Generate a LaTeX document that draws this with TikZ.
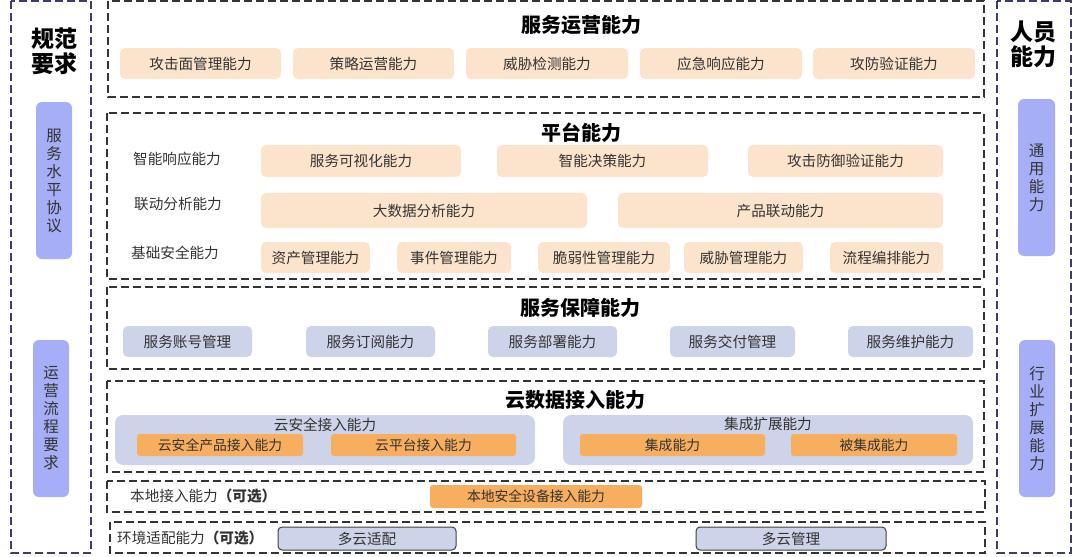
\documentclass[tikz,border=0pt]{standalone}
\usepackage{fontspec}
\setmainfont{Noto Sans CJK SC}
\usepackage{tikz}
\definecolor{peachfill}{HTML}{FCE4CC}
\definecolor{lavfill}{HTML}{CDD3E8}
\definecolor{orangefill}{HTML}{F7AE5E}
\definecolor{purplefill}{HTML}{A5AEF6}
\definecolor{navyline}{HTML}{3B3F66}
\definecolor{txtgray}{HTML}{333333}
\tikzset{
  frame/.style={draw=black!80, line width=1.1pt, dash pattern=on 8pt off 4pt},
  sideframe/.style={draw=navyline, line width=1.1pt, dash pattern=on 8pt off 4pt},
  itembox/.style={rounded corners=5pt, inner sep=0pt, text=txtgray, font=\fontsize{14.6}{16}\selectfont},
  peach/.style={itembox, fill=peachfill},
  lavender/.style={itembox, fill=lavfill},
  orangebox/.style={itembox, fill=orangefill, rounded corners=3pt, font=\fontsize{13.8}{15}\selectfont},
  groupbox/.style={fill=lavfill, rounded corners=8pt, inner sep=0pt},
  cloudbox/.style={itembox, fill=lavfill, draw=black!75, line width=1pt, rounded corners=4pt},
  purplebar/.style={fill=purplefill, rounded corners=6pt, inner sep=0pt, text=txtgray, align=center, font=\fontsize{15.5}{18}\selectfont},
  title/.style={font=\fontsize{20}{23}\selectfont\bfseries},
  sidetitle/.style={font=\fontsize{23}{25}\selectfont\bfseries, align=center},
  rowlabel/.style={text=txtgray, font=\fontsize{14.6}{16}\selectfont, inner sep=0pt}
}
\begin{document}
\begin{tikzpicture}[x=1pt,y=-1pt]
\useasboundingbox (0,0) rectangle (1080,557);
\draw[sideframe] (11,1) rectangle (91,553);
\draw[sideframe] (997,1) rectangle (1071,553);
\draw[frame] (108,1) rectangle (984,97);
\draw[frame] (107,113) rectangle (984,279);
\draw[frame] (107,287) rectangle (984,369);
\draw[frame] (107,381) rectangle (984,472);
\draw[frame] (107,481) rectangle (985,512);
\draw[frame] (110,522) rectangle (985,553);

\node[sidetitle] (norms) at (54,51) {规范\\要求};
\node[sidetitle] (staff) at (1033,44) {人员\\能力};
\node[purplebar, minimum width=36pt, minimum height=157pt] (sla) at (54,180.5) {服\\务\\水\\平\\协\\议};
\node[purplebar, minimum width=36pt, minimum height=157pt] (opsreq) at (51,418.5) {运\\营\\流\\程\\要\\求};
\node[purplebar, minimum width=37pt, minimum height=157pt] (general) at (1036.5,177.5) {通\\用\\能\\力};
\node[purplebar, minimum width=36pt, minimum height=157pt] (industry) at (1037,418.5) {行\\业\\扩\\展\\能\\力};

\node[title] (svcops) at (581,25) {服务运营能力};
\node[peach, minimum width=161pt, minimum height=31pt] (attack) at (200.5,63.5) {攻击面管理能力};
\node[peach, minimum width=161pt, minimum height=31pt] (policy) at (373.5,63.5) {策略运营能力};
\node[peach, minimum width=162pt, minimum height=31pt] (detect) at (547,63.5) {威胁检测能力};
\node[peach, minimum width=162pt, minimum height=31pt] (respond) at (721,63.5) {应急响应能力};
\node[peach, minimum width=162pt, minimum height=31pt] (verify) at (894,63.5) {攻防验证能力};

\node[title] (platform) at (581,133) {平台能力};
\node[rowlabel] (smartresp) at (177,159) {智能响应能力};
\node[rowlabel] (linkana) at (178,204) {联动分析能力};
\node[rowlabel] (basesec) at (175,253) {基础安全能力};
\node[peach, minimum width=200pt, minimum height=32pt] (visual) at (361,161) {服务可视化能力};
\node[peach, minimum width=211pt, minimum height=32pt] (decide) at (602.5,161) {智能决策能力};
\node[peach, minimum width=195pt, minimum height=32pt] (defverify) at (845.5,161) {攻击防御验证能力};
\node[peach, minimum width=326pt, minimum height=35pt] (bigdata) at (424,210.5) {大数据分析能力};
\node[peach, minimum width=325pt, minimum height=35pt] (prodlink) at (780.5,210.5) {产品联动能力};
\node[peach, minimum width=109pt, minimum height=31pt] (asset) at (315.5,257.5) {资产管理能力};
\node[peach, minimum width=114pt, minimum height=31pt] (event) at (454,257.5) {事件管理能力};
\node[peach, minimum width=132pt, minimum height=31pt] (vuln) at (604,257.5) {脆弱性管理能力};
\node[peach, minimum width=119pt, minimum height=31pt] (threat) at (743.5,257.5) {威胁管理能力};
\node[peach, minimum width=113pt, minimum height=31pt] (orch) at (886.5,257.5) {流程编排能力};

\node[title] (svcguard) at (580,308) {服务保障能力};
\node[lavender, minimum width=129pt, minimum height=31pt] (account) at (187.5,341.5) {服务账号管理};
\node[lavender, minimum width=129pt, minimum height=31pt] (subscribe) at (370.5,341.5) {服务订阅能力};
\node[lavender, minimum width=129pt, minimum height=31pt] (deploy) at (552.5,341.5) {服务部署能力};
\node[lavender, minimum width=125pt, minimum height=31pt] (deliver) at (732.5,341.5) {服务交付管理};
\node[lavender, minimum width=125pt, minimum height=31pt] (maintain) at (910.5,341.5) {服务维护能力};

\node[title] (clouddata) at (575,400) {云数据接入能力};
\node[groupbox, minimum width=420pt, minimum height=50pt] (cloudsec) at (325,440) {};
\node[groupbox, minimum width=410pt, minimum height=50pt] (integ) at (768,440) {};
\node[rowlabel] (cloudseclbl) at (325,425) {云安全接入能力};
\node[rowlabel] (integlbl) at (768,424) {集成扩展能力};
\node[orangebox, minimum width=166pt, minimum height=22pt] (secprod) at (220,445) {云安全产品接入能力};
\node[orangebox, minimum width=185pt, minimum height=22pt] (cloudplat) at (423.5,445) {云平台接入能力};
\node[orangebox, minimum width=185pt, minimum height=22pt] (integrate) at (672.5,445) {集成能力};
\node[orangebox, minimum width=166pt, minimum height=22pt] (beinteg) at (874,445) {被集成能力};

\node[rowlabel, anchor=west] (local) at (130,496) {本地接入能力\textbf{（可选）}};
\node[orangebox, minimum width=212pt, minimum height=23pt] (localdev) at (536,496.5) {本地安全设备接入能力};

\node[rowlabel, anchor=west] (envadapt) at (117,538) {环境适配能力\textbf{（可选）}};
\node[cloudbox, minimum width=178pt, minimum height=23pt] (multiadapt) at (367,538.5) {多云适配};
\node[cloudbox, minimum width=190pt, minimum height=23pt] (multimgmt) at (791,538.5) {多云管理};
\end{tikzpicture}
\end{document}
